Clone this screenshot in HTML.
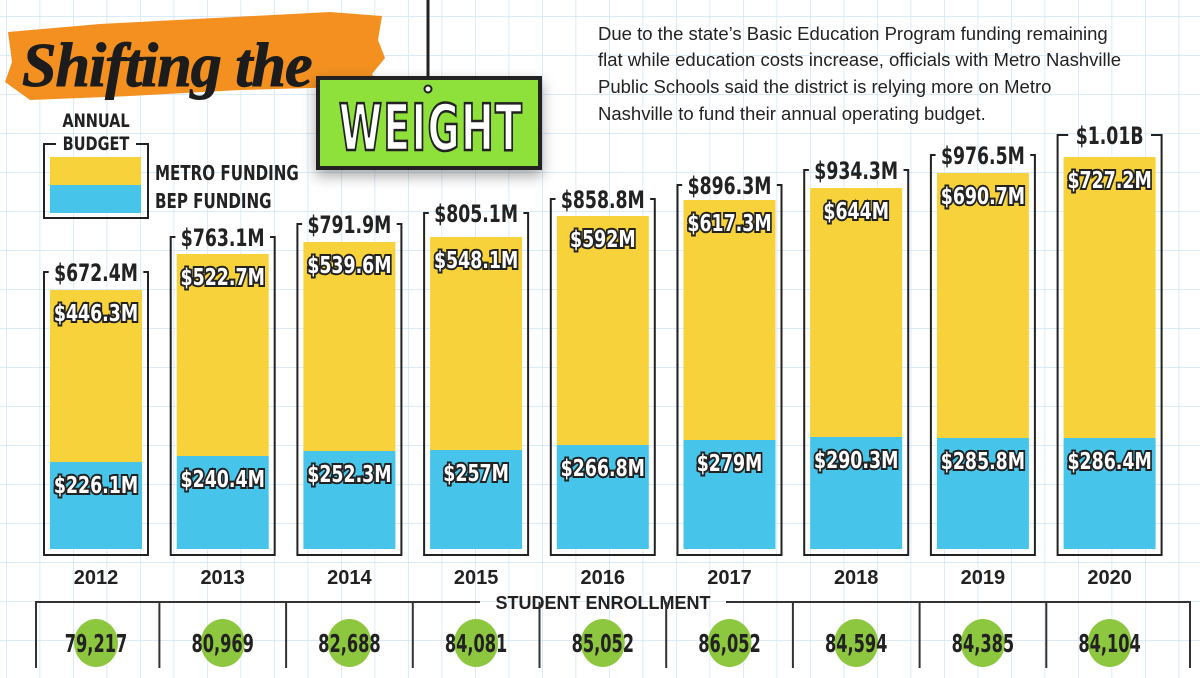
<!DOCTYPE html>
<html><head><meta charset="utf-8"><style>
html,body{margin:0;padding:0;background:#fff}
svg{display:block}
.cn{font-family:"DejaVu Sans Condensed","Liberation Sans",sans-serif;font-weight:bold}
</style></head><body>
<svg width="1200" height="678" viewBox="0 0 1200 678" xmlns="http://www.w3.org/2000/svg">
<defs>
<pattern id="g" x="6" y="16" width="33.5" height="39" patternUnits="userSpaceOnUse">
<path d="M0 0V39M0 0H33.5" stroke="#cfe6f5" stroke-width="1.5" fill="none"/>
</pattern>
<filter id="sh" x="-20%" y="-20%" width="140%" height="150%"><feDropShadow dx="0" dy="6" stdDeviation="7" flood-opacity="0.35"/></filter>
</defs>
<rect width="1200" height="678" fill="url(#g)"/>
<path d="M8 32 L100 24 L330 12 L382 16 L378 40 L385 58 L372 74 L380 86 L240 90 L130 96 L30 100 L5 82 L12 62 Z" fill="#f39020"/>
<text x="22" y="86" font-family="Liberation Serif,serif" font-style="italic" font-weight="bold" font-size="62" fill="#1c1c1c" stroke="#1c1c1c" stroke-width="1" letter-spacing="-1">Shifting the</text>
<line x1="428" y1="0" x2="428" y2="88" stroke="#222" stroke-width="3"/>
<rect x="318" y="78" width="222" height="90" fill="#8ee03a" stroke="#222" stroke-width="4" filter="url(#sh)"/>
<circle cx="428" cy="89" r="3.5" fill="#fff" stroke="#222" stroke-width="2"/>
<g transform="translate(431,150) scale(0.68,1)"><text x="0" y="0" text-anchor="middle" class="cn" font-size="64" fill="#fff" stroke="#222" stroke-width="2.5" letter-spacing="2">WEIGHT</text></g>
<g font-family="Liberation Sans,sans-serif" font-size="18.5" fill="#222">
<text x="598" y="40">Due to the state’s Basic Education Program funding remaining</text>
<text x="598" y="66">flat while education costs increase, officials with Metro Nashville</text>
<text x="598" y="93">Public Schools said the district is relying more on Metro</text>
<text x="598" y="120">Nashville to fund their annual operating budget.</text>
</g>
<g transform="translate(96,127) scale(0.85,1)"><text text-anchor="middle" class="cn" font-size="19" fill="#222">ANNUAL</text></g>
<g transform="translate(96,150) scale(0.85,1)"><text text-anchor="middle" class="cn" font-size="19" fill="#222">BUDGET</text></g>
<path d="M56 144 H44 V218 H148 V144 H136" fill="none" stroke="#222" stroke-width="2"/>
<rect x="50" y="157" width="91" height="28" fill="#f7d23a"/>
<rect x="50" y="185" width="91" height="28" fill="#47c4ea"/>
<g transform="translate(155,180) scale(0.84,1)"><text class="cn" font-size="20" fill="#222">METRO FUNDING</text></g>
<g transform="translate(155,208) scale(0.84,1)"><text class="cn" font-size="20" fill="#222">BEP FUNDING</text></g>
<g id="bars"></g>
<path d="M36 668 V602 H480 M726 602 H1190 V668" fill="none" stroke="#333" stroke-width="2"/>
<text x="603" y="609" text-anchor="middle" font-family="Liberation Sans,sans-serif" font-weight="bold" font-size="18" fill="#222">STUDENT ENROLLMENT</text>
<g id="enr"></g>
</svg>
<script>
var d=[["2012","$672.4M","$446.3M","$226.1M",272,290,462,"79,217"],
["2013","$763.1M","$522.7M","$240.4M",237,254,456,"80,969"],
["2014","$791.9M","$539.6M","$252.3M",224,242,451,"82,688"],
["2015","$805.1M","$548.1M","$257M",213,237,450,"84,081"],
["2016","$858.8M","$592M","$266.8M",199,216,445,"85,052"],
["2017","$896.3M","$617.3M","$279M",185,200,440,"86,052"],
["2018","$934.3M","$644M","$290.3M",170,188,437,"84,594"],
["2019","$976.5M","$690.7M","$285.8M",155,173,438,"84,385"],
["2020","$1.01B","$727.2M","$286.4M",135,157,438,"84,104"]];
function T(x,y,k,attrs,t){return '<g transform="translate('+x+','+y+') scale('+k+',1)"><text text-anchor="middle" '+attrs+'>'+t+'</text></g>';}
var s="",e="";
d.forEach(function(r,i){var c=96+i*126.7,L=c-52,R=c+52;
var hw=r[1].length*5.9+6;
s+='<path d="M'+(c-hw)+' '+r[4]+' H'+L+' V555 H'+R+' V'+r[4]+' H'+(c+hw)+'" fill="none" stroke="#222" stroke-width="2"/>';
s+=T(c,r[4]+9,0.8,'class="cn" font-size="24" fill="#222"',r[1]);
s+='<rect x="'+(c-46)+'" y="'+r[5]+'" width="92" height="'+(r[6]-r[5])+'" fill="#f7d23a"/>';
s+='<rect x="'+(c-46)+'" y="'+r[6]+'" width="92" height="'+(549-r[6])+'" fill="#47c4ea"/>';
var a='class="cn" font-size="23" fill="#fff" stroke="#222" stroke-width="4" paint-order="stroke"';
s+=T(c,r[5]+31,0.84,a,r[2]);
s+=T(c,r[6]+31,0.84,a,r[3]);
s+='<text x="'+c+'" y="584" text-anchor="middle" font-family="Liberation Sans,sans-serif" font-weight="bold" font-size="20" fill="#222">'+r[0]+'</text>';
e+='<ellipse cx="'+c+'" cy="643" rx="22" ry="24" fill="#8dc63f"/>';
e+=T(c,652,0.72,'class="cn" font-size="25" fill="#222"',r[7]);
if(i>0)e+='<line x1="'+(c-63.3)+'" y1="602" x2="'+(c-63.3)+'" y2="668" stroke="#333" stroke-width="2"/>';
});
document.getElementById("bars").innerHTML=s;
document.getElementById("enr").innerHTML=e;
</script>
</body></html>
